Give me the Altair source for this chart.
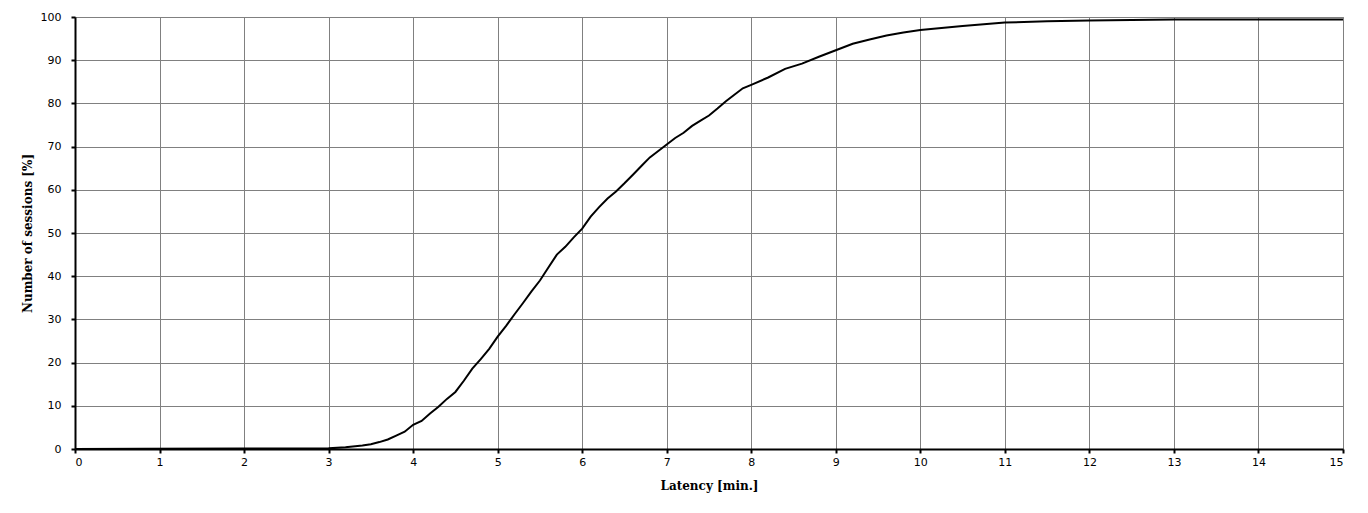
import altair as alt
import pandas as pd

latency = [0, 0.8, 2.0, 3.0, 3.2, 3.4, 3.5, 3.6, 3.7, 3.8, 3.9, 4.0, 4.1, 4.2, 4.3, 4.4, 4.5,
           4.6, 4.7, 4.8, 4.9, 5.0, 5.1, 5.2, 5.3, 5.4, 5.5, 5.6, 5.7, 5.8, 5.9, 6.0, 6.1,
           6.2, 6.3, 6.4, 6.5, 6.6, 6.7, 6.8, 6.9, 7.0, 7.1, 7.2, 7.3, 7.4, 7.5, 7.6, 7.7,
           7.8, 7.9, 8.0, 8.2, 8.4, 8.6, 8.8, 9.0, 9.2, 9.4, 9.6, 9.8, 10.0, 10.5, 11.0,
           11.5, 12.0, 12.5, 13.0, 14.0, 15.0]
sessions = [0, 0.05, 0.1, 0.15, 0.4, 0.8, 1.1, 1.6, 2.2, 3.1, 4.0, 5.6, 6.5, 8.2, 9.8, 11.6, 13.2,
            15.8, 18.6, 20.8, 23.2, 26.0, 28.5, 31.2, 33.8, 36.5, 39.0, 42.0, 45.0, 46.8, 49.0, 51.0, 53.8,
            56.0, 58.0, 59.6, 61.5, 63.5, 65.5, 67.5, 69.0, 70.5, 72.0, 73.2, 74.8, 76.0, 77.2, 78.8, 80.5,
            82.0, 83.5, 84.3, 86.0, 88.0, 89.2, 90.8, 92.3, 93.8, 94.8, 95.7, 96.4, 97.0, 97.9, 98.7,
            99.0, 99.2, 99.3, 99.45, 99.45, 99.45]

x_ticks = list(range(0, 16))
y_ticks = list(range(0, 101, 10))

df = pd.DataFrame({"latency": latency, "sessions": sessions})

chart = alt.Chart(df).mark_line(color="black", strokeWidth=2, clip=True).encode(
    x=alt.X("latency:Q", scale=alt.Scale(domain=[0, 15], nice=False),
            axis=alt.Axis(title="Latency [min.]", values=x_ticks, format="d",
                          labelPadding=3, titlePadding=13)),
    y=alt.Y("sessions:Q", scale=alt.Scale(domain=[0, 100], nice=False),
            axis=alt.Axis(title="Number of sessions [%]", values=y_ticks, format="d",
                          labelPadding=10, titlePadding=6)),
).properties(
    width=1268, height=432,
    autosize=alt.AutoSizeParams(type="none"),
    padding={"left": 67, "top": 9, "right": 17, "bottom": 56},
).configure_view(
    stroke="#808080", strokeWidth=1
).configure_axis(
    grid=True, gridColor="#808080", gridWidth=1, gridOpacity=1,
    domainColor="black", domainWidth=2,
    tickColor="black", tickWidth=2, tickSize=4,
    labelFont="DejaVu Sans", labelFontSize=11, labelColor="black",
    titleFont="DejaVu Serif", titleFontSize=12, titleFontWeight="bold", titleColor="black",
)

chart.save("out.html", embed_options={"renderer": "svg", "actions": False})
